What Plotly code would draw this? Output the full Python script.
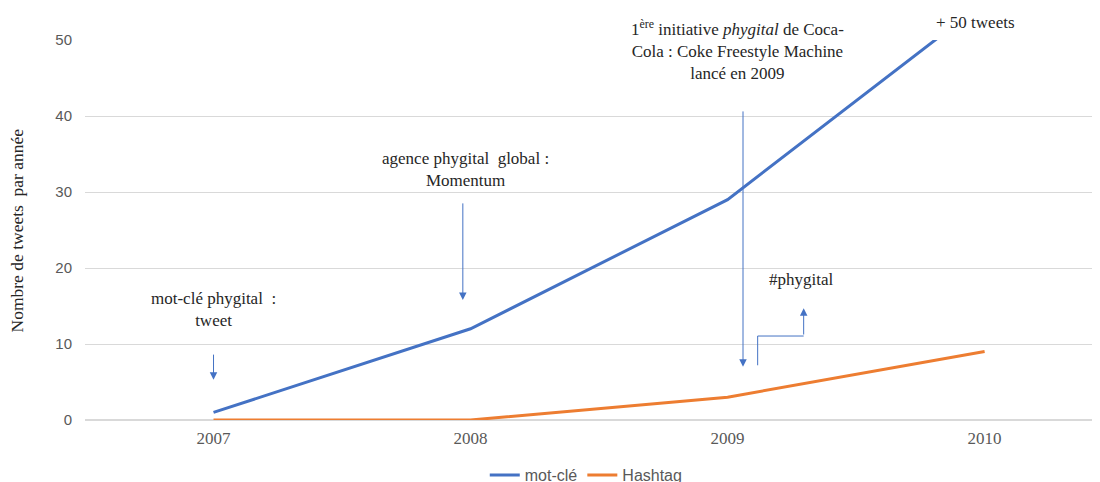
import plotly.graph_objects as go

years = ["2007", "2008", "2009", "2010"]
mot_cle = [1, 12, 29, 55]
hashtag = [0, 0, 3, 9]
y_ticks = [0, 10, 20, 30, 40, 50]

BLUE = "#4472C4"
ORANGE = "#ED7D31"
SERIF = "Liberation Serif, Times New Roman, serif"
SANS = "Liberation Sans Narrow, Liberation Sans, Arial, sans-serif"
TXT = "#262626"
FS = 17

fig = go.Figure()
fig.add_trace(go.Scatter(x=years, y=mot_cle, mode="lines", name="mot-clé",
                         line=dict(color=BLUE, width=3)))
fig.add_trace(go.Scatter(x=years, y=hashtag, mode="lines", name="Hashtag",
                         line=dict(color=ORANGE, width=3)))

def arrow(x, y_tip, y_tail):
    fig.add_annotation(x=x, y=y_tip, ax=x, ay=y_tail, xref="x", yref="y",
                       axref="x", ayref="y", text="", showarrow=True,
                       arrowhead=2, arrowsize=1.5, arrowwidth=1, arrowcolor=BLUE)

def label(x, y, text, yref="y"):
    fig.add_annotation(x=x, y=y, xref="x", yref=yref, text=text, showarrow=False,
                       xanchor="center", yanchor="middle",
                       font=dict(family=SERIF, size=FS, color=TXT), align="center")

label(0, 14.6, "mot-clé phygital  :<br>tweet")
arrow(0, 5.3, 8.8)
label(0.98, 32.9, "agence phygital  global :<br>Momentum")
arrow(0.97, 15.8, 28.7)
label(2.04, 48.7, "1<sup>ère</sup> initiative <i>phygital</i> de Coca-<br>Cola : Coke Freestyle Machine<br>lancé en 2009")
arrow(2.06, 7.0, 40.8)
label(2.965, 1.047, "+ 50 tweets", yref="paper")
label(2.284, 18.55, "#phygital")

# elbow arrow for #phygital
x1, x2 = 2.117, 2.296
yb, ym, yt = 7.2, 11.05, 14.7
fig.add_shape(type="line", x0=x1, y0=yb, x1=x1, y1=ym, xref="x", yref="y",
              line=dict(color=BLUE, width=1))
fig.add_shape(type="line", x0=x1, y0=ym, x1=x2, y1=ym, xref="x", yref="y",
              line=dict(color=BLUE, width=1))
arrow(x2, yt, ym)

fig.add_annotation(x=-0.066, y=0.5, xref="paper", yref="paper",
                   text="Nombre de tweets  par année", textangle=-90,
                   xanchor="center", yanchor="middle",
                   showarrow=False, font=dict(family=SERIF, size=17.5, color=TXT))

fig.update_layout(
    width=1100, height=482,
    margin=dict(l=77, r=0, t=32, b=70, autoexpand=False),
    paper_bgcolor="white", plot_bgcolor="white",
    showlegend=True,
    legend=dict(orientation="h", x=0.49, xanchor="center", y=-0.145, yanchor="middle",
                font=dict(family=SANS, size=16, color="#595959"),
                itemwidth=30, tracegroupgap=0),
    xaxis=dict(type="category", range=[-0.5, 3.48], showgrid=False,
               showline=False, ticks="", automargin=False,
               ticklabelstandoff=6,
               tickfont=dict(family=SERIF, size=17, color="#595959")),
    yaxis=dict(range=[0, 50], tickvals=y_ticks, showgrid=True,
               gridcolor="#d9d9d9", gridwidth=1, zeroline=True,
               zerolinecolor="#d9d9d9", zerolinewidth=1.5,
               ticklabelstandoff=12, automargin=False,
               tickfont=dict(family=SANS, size=15, color="#595959")),
)

fig.write_html("out.html")
